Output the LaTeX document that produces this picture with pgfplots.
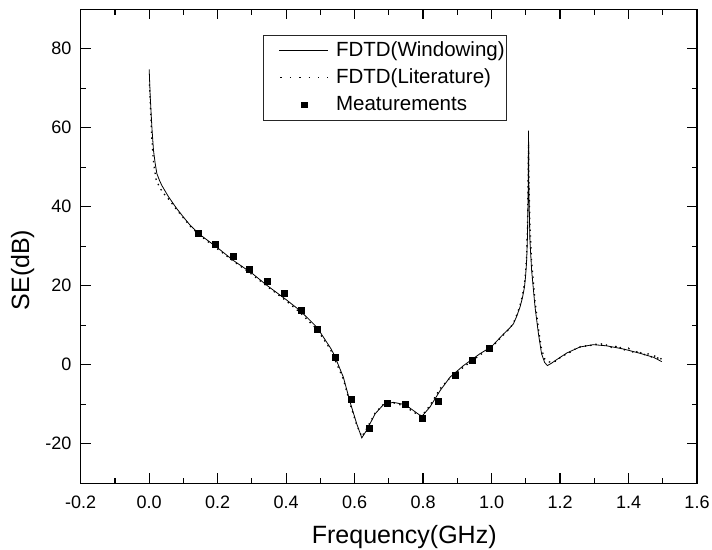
\documentclass[border=0pt]{standalone}
\usepackage{pgfplots}
\pgfplotsset{compat=1.18}
\usepackage{fontspec}
\setmainfont{Liberation Sans}
\newcommand{\lent}[1]{\makebox[170bp][l]{#1}}
\begin{document}
\begin{tikzpicture}
\begin{axis}[
  scale only axis,
  width=616.3bp, height=474bp,
  xmin=-0.2, xmax=1.6, ymin=-30, ymax=90,
  xtick={-0.2,0,0.2,0.4,0.6,0.8,1.0,1.2,1.4,1.6},
  xticklabels={-0.2,0.0,0.2,0.4,0.6,0.8,1.0,1.2,1.4,1.6},
  ytick={-20,0,20,40,60,80},
  yticklabels={-20,0,20,40,60,80},
  minor x tick num=1, minor y tick num=1,
  tick align=inside,
  major tick length=10bp, minor tick length=5.5bp,
  every tick/.style={black, line width=1.2bp},
  axis line style={line width=1.5bp},
  xtick pos=both, ytick pos=both,
  xticklabel pos=lower, yticklabel pos=left,
  ticklabel style={font=\fontsize{18bp}{21bp}\selectfont},
  xticklabel style={anchor=base, yshift=-25bp, inner sep=0pt},
  yticklabel style={anchor=east, xshift=-9bp, inner sep=0pt},
  xlabel={Frequency(GHz)},
  ylabel={SE(dB)},
  label style={font=\fontsize{25bp}{29bp}\selectfont},
  xlabel style={at={(rel axis cs:0.525,-0.126)}, anchor=base, inner sep=0pt},
  ylabel style={at={(rel axis cs:-0.094,0.45)}, anchor=center, inner sep=0pt},
  legend style={at={(0.296,0.946)}, anchor=north west,
    draw=black!85, line width=0.6bp,
    font=\fontsize{20.5bp}{23bp}\selectfont,
    nodes={inner sep=0pt, text height=19.5bp, text depth=7.8bp},
    inner xsep=0bp, inner ysep=1.5bp, column sep=7bp},
  legend cell align=left,
]
\coordinate (sw) at (rel axis cs:0,0);
\addplot[black, line width=0.8bp,
  legend image code/.code={\path[draw=none] (0bp,0bp) -- (65bp,0bp); \draw[black, line width=0.8bp] (16bp,0bp) -- (65bp,0bp);}]
coordinates {
(0.000,74.8) (0.003,68) (0.008,60) (0.0126,54.3) (0.0175,51) (0.0225,48.4)
(0.03,46.7) (0.037,45.4) (0.056,42.6) (0.08,39.6) (0.1,37.4) (0.12,35.3)
(0.149,32.9) (0.2,29.6) (0.246,26.4) (0.3,23.2) (0.344,20.1) (0.4,16.5)
(0.441,13.7) (0.49,9.5) (0.53,4.2) (0.54,2.6) (0.567,-3.1) (0.587,-9.5)
(0.606,-14.9) (0.621,-18.5) (0.635,-16.6) (0.66,-12.4) (0.684,-10.1)
(0.713,-9.5) (0.748,-10.1) (0.772,-11.6) (0.796,-13.1) (0.82,-10.7)
(0.85,-6.5) (0.879,-3.1) (0.918,-0.2) (0.966,2.8) (1.0,4.6) (1.035,7.8)
(1.053,9.3) (1.064,10.4) (1.073,12.2) (1.083,14.6) (1.09,16.9) (1.096,19.6)
(1.099,22.1) (1.102,25.6) (1.1035,28.7) (1.105,33.2) (1.107,45)
(1.108,59.3) (1.1085,50) (1.109,44) (1.112,31.5) (1.117,23.9) (1.127,14.6)
(1.137,7.8) (1.146,2.8) (1.155,0.6) (1.163,-0.2) (1.175,0.4) (1.19,1.3)
(1.22,3.0) (1.258,4.5) (1.297,5.1) (1.336,4.8) (1.385,4.0) (1.434,2.9)
(1.473,1.9) (1.497,0.8)
};
\addlegendentry{\lent{FDTD(Windowing)}}
\addplot[black, line width=1.3bp, dash pattern=on 1.4bp off 4.5bp,
  legend image code/.code={\path[draw=none] (0bp,0bp) -- (65bp,0bp); \draw[black, line width=1.3bp, dash pattern=on 1.4bp off 8bp] (17bp,0bp) -- (65bp,0bp);}]
coordinates {
(0.001,71) (0.004,64) (0.008,57) (0.013,51) (0.02,47) (0.03,45) (0.04,43.6)
(0.06,41.6) (0.08,39.3) (0.1,37.2) (0.12,35.1) (0.149,32.7) (0.2,29.3)
(0.25,26.0) (0.3,22.9) (0.344,19.9) (0.4,16.2) (0.44,13.3) (0.49,9.0)
(0.53,3.8) (0.567,-3.6) (0.587,-10) (0.606,-15.2) (0.621,-18.2)
(0.635,-16.2) (0.66,-12.2) (0.684,-10.0) (0.713,-9.6) (0.748,-10.5)
(0.772,-12.0) (0.796,-13.0) (0.82,-10.3) (0.85,-6.0) (0.879,-3.3)
(0.918,-0.6) (0.966,2.5) (1.0,4.4) (1.035,7.6) (1.053,9.2) (1.064,10.6)
(1.073,12.5) (1.083,15) (1.09,17.5) (1.096,20.5) (1.099,23.2) (1.102,27)
(1.105,35) (1.107,48) (1.108,56) (1.109,47)
(1.112,35) (1.117,26) (1.127,16) (1.137,9) (1.146,4) (1.155,1.5)
(1.165,0.8) (1.175,0.6) (1.19,1.0) (1.2,1.8) (1.21,2.2) (1.22,3.0)
(1.23,3.2) (1.24,3.9) (1.25,4.0) (1.26,4.6) (1.27,4.5) (1.28,5.1)
(1.29,4.9) (1.30,5.4) (1.31,5.0) (1.32,5.3) (1.33,4.7) (1.34,5.2)
(1.35,4.4) (1.36,4.9) (1.37,4.0) (1.38,4.6) (1.39,3.6) (1.40,4.2)
(1.41,3.1) (1.42,3.8) (1.43,2.6) (1.44,3.4) (1.45,2.1) (1.46,3.0)
(1.47,1.5) (1.48,2.6) (1.49,1.0) (1.497,1.8)
};
\addlegendentry{\lent{FDTD(Literature)}}
\addplot[only marks, mark=square*, mark size=3bp, black,
  legend image code/.code={\path[draw=none] (0bp,0bp) -- (65bp,0bp); \fill[black] (38bp,-2.8bp) rectangle (43.6bp,2.8bp);}]
coordinates {
(0.144,33.2) (0.193,30.6) (0.244,27.4) (0.293,24.1) (0.344,21.1)
(0.394,18.0) (0.443,13.9) (0.492,8.9) (0.542,1.9) (0.591,-8.6)
(0.642,-16.0) (0.694,-9.7) (0.747,-10.1) (0.796,-13.5) (0.845,-9.2)
(0.893,-2.7) (0.944,1.1) (0.994,4.3)
};
\addlegendentry{\lent{Meaturements}}
\end{axis}
\path (sw) ++(-80.7bp,-66.7bp) rectangle ++(712bp,550bp);
\end{tikzpicture}
\end{document}
